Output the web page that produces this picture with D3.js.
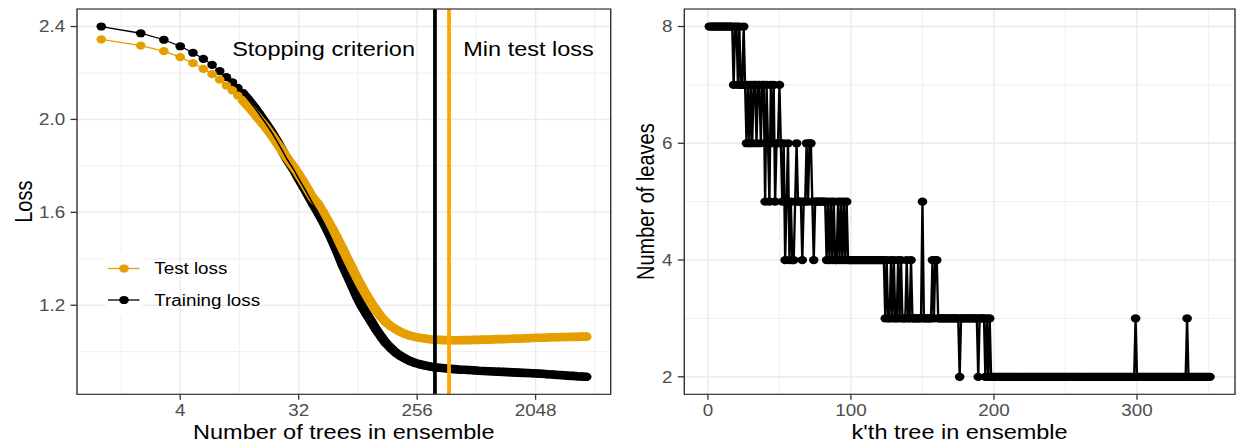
<!DOCTYPE html>
<html>
<head>
<meta charset="utf-8">
<script src="https://cdn.jsdelivr.net/npm/d3@7"></script>
<style>
  body { margin: 0; background: #fff; }
  text { font-family: "Liberation Sans", Arial, Helvetica, sans-serif; }
</style>
</head>
<body>
<svg id="chart" width="1236" height="444"></svg>
<script>
// ---- data ----
const treeCounts = [1,2,3,4,5,6,7,8,9,10,11,12,13,14,15,16,18,20,22,24,26,28,30,32,35,38,41,45,49,53,58,63,69,75,82,89,97,106,115,125,136,148,161,175,191,208,226,246,268,292,318,347,378,412,449,489,533,581,633,690,752,820,894,975,1063,1159,1264,1378,1502,1638,1786,1947,2123,2315,2524,2752,3001,3272,3568,3890,4241,4624,5000];
const trainLoss = [2.400,2.371,2.343,2.315,2.287,2.261,2.235,2.208,2.182,2.160,2.136,2.113,2.090,2.067,2.045,2.023,1.982,1.943,1.904,1.866,1.830,1.802,1.775,1.745,1.708,1.672,1.638,1.600,1.562,1.524,1.477,1.430,1.375,1.330,1.282,1.237,1.196,1.160,1.128,1.095,1.065,1.037,1.016,0.997,0.982,0.970,0.960,0.952,0.946,0.941,0.937,0.933,0.931,0.929,0.927,0.925,0.923,0.922,0.921,0.920,0.918,0.917,0.916,0.915,0.914,0.913,0.912,0.911,0.910,0.909,0.908,0.907,0.906,0.905,0.903,0.902,0.900,0.899,0.897,0.896,0.894,0.893,0.892];
const testLoss = [2.345,2.318,2.294,2.268,2.242,2.218,2.195,2.171,2.146,2.125,2.103,2.082,2.061,2.040,2.020,2.000,1.965,1.930,1.896,1.865,1.835,1.810,1.787,1.763,1.728,1.694,1.662,1.636,1.601,1.567,1.527,1.488,1.444,1.402,1.358,1.318,1.278,1.240,1.208,1.178,1.150,1.127,1.110,1.097,1.085,1.076,1.069,1.064,1.060,1.057,1.054,1.052,1.051,1.050,1.049,1.049,1.049,1.050,1.050,1.051,1.051,1.052,1.052,1.053,1.054,1.054,1.055,1.056,1.056,1.057,1.058,1.059,1.060,1.060,1.061,1.062,1.062,1.063,1.063,1.064,1.064,1.065,1.065];
const stopTree = 350;
const minTestTree = 448;
const treeTicks = [4, 32, 256, 2048];
const treeMinorPow = [0.5, 3.5, 6.5, 9.5, 12.5];   // minor grid at 2^p
const lossTicks = [1.2, 1.6, 2.0, 2.4];
const lossMinor = [1.0, 1.4, 1.8, 2.2];

// number of leaves of each tree, as runs [leaves, how many trees in a row]
const leafRuns = [[8,17],[7,1],[8,2],[7,1],[8,1],[7,2],[8,1],[7,1],[6,1],[7,1],[6,1],[7,1],[6,1],[7,2],[6,1],[7,2],[6,1],[7,2],
  [5,1],[7,1],[6,1],[5,1],[7,1],[6,1],[7,1],[5,1],[6,2],[7,1],[6,1],[5,1],[6,1],[4,1],[5,1],[6,1],[4,1],[5,1],[4,2],[5,1],[6,1],
  [5,3],[4,1],[5,2],[6,1],[5,1],[6,2],[5,1],[4,1],[5,8],[4,1],[5,1],[4,1],[5,1],[4,1],[5,1],[4,2],[5,1],[4,1],[5,1],[4,1],[5,1],
  [4,1],[5,1],[4,26],[3,1],[4,1],[3,2],[4,1],[3,1],[4,1],[3,2],[4,1],[3,1],[4,1],[3,3],[4,1],[3,2],[4,1],[3,7],[5,1],[3,6],[4,1],
  [3,1],[4,2],[3,15],[2,1],[3,12],[2,1],[3,4],[2,1],[3,1],[2,1],[3,1],[2,101],[3,1],[2,35],[3,1],[2,16]];
const kTicks = [0, 100, 200, 300];
const kMinor = [50, 150, 250, 350];
const leafTicks = [2, 4, 6, 8];
const leafMinor = [3, 5, 7];

// ---- layout ----
const SX = 1.175;   // the picture is a bit wider than tall, stretch everything
const LP = {left: 77/SX, right: 610.7/SX, top: 9, bottom: 394.3};
const RP = {left: 684.3/SX, right: 1235/SX, top: 9, bottom: 394.3};
const grey = '#EBEBEB', orange = '#E69F00';

let svg = d3.select('#chart');
let root = svg.append('g').attr('transform', 'scale(' + SX + ',1)');

// ggplot style 5% expansion
function expand(lo, hi) {
    let pad = (hi - lo) * 0.05;
    return [lo - pad, hi + pad];
}

let lg = expand(Math.log2(d3.min(treeCounts)), Math.log2(d3.max(treeCounts)));
let xL = d3.scaleLog().base(2).domain([2 ** lg[0], 2 ** lg[1]]).range([LP.left, LP.right]);
let yL = d3.scaleLinear().domain(expand(d3.min(trainLoss), d3.max(trainLoss))).range([LP.bottom, LP.top]);

let leaves = [];
leafRuns.forEach(r => { for (let i = 0; i < r[1]; i++) leaves.push(r[0]); });
let trees = leaves.map((v, i) => ({k: i + 1, n: v}));
let xR = d3.scaleLinear().domain(expand(1, trees.length)).range([RP.left, RP.right]);
let yR = d3.scaleLinear().domain(expand(2, 8)).range([RP.bottom, RP.top]);

function frame(P, x, y, xMaj, xMin, yMaj, yMin, fmt) {
    let g = root.append('g');
    g.selectAll('.vmin').data(xMin).enter().append('line')
        .attr('x1', d => x(d)).attr('x2', d => x(d)).attr('y1', P.top).attr('y2', P.bottom)
        .attr('stroke', grey).attr('stroke-width', 0.7);
    g.selectAll('.hmin').data(yMin).enter().append('line')
        .attr('x1', P.left).attr('x2', P.right).attr('y1', d => y(d)).attr('y2', d => y(d))
        .attr('stroke', grey).attr('stroke-width', 0.8);
    g.selectAll('.vmaj').data(xMaj).enter().append('line')
        .attr('x1', d => x(d)).attr('x2', d => x(d)).attr('y1', P.top).attr('y2', P.bottom)
        .attr('stroke', grey).attr('stroke-width', 1.3);
    g.selectAll('.hmaj').data(yMaj).enter().append('line')
        .attr('x1', P.left).attr('x2', P.right).attr('y1', d => y(d)).attr('y2', d => y(d))
        .attr('stroke', grey).attr('stroke-width', 1.5);
    // axes
    g.selectAll('.xt').data(xMaj).enter().append('line')
        .attr('x1', d => x(d)).attr('x2', d => x(d)).attr('y1', P.bottom).attr('y2', P.bottom + 5.5)
        .attr('stroke', '#333').attr('stroke-width', 1.1);
    g.selectAll('.yt').data(yMaj).enter().append('line')
        .attr('x1', P.left - 5.5).attr('x2', P.left).attr('y1', d => y(d)).attr('y2', d => y(d))
        .attr('stroke', '#333').attr('stroke-width', 1.3);
    g.selectAll('.xl').data(xMaj).enter().append('text')
        .attr('x', d => x(d)).attr('y', 416).attr('text-anchor', 'middle')
        .attr('font-size', 16).attr('fill', '#4D4D4D').text(d => d);
    g.selectAll('.yl').data(yMaj).enter().append('text')
        .attr('x', P.left - 10).attr('y', d => y(d)).attr('dy', '0.36em').attr('text-anchor', 'end')
        .attr('font-size', 16).attr('fill', '#4D4D4D').text(fmt);
    return g;
}

function border(P) {
    root.append('rect').attr('x', P.left).attr('y', P.top)
        .attr('width', P.right - P.left).attr('height', P.bottom - P.top)
        .attr('fill', 'none').attr('stroke', '#333').attr('stroke-width', 1.2);
}

// ---------- left panel ----------
frame(LP, xL, yL, treeTicks, treeMinorPow.map(p => 2 ** p), lossTicks, lossMinor, d => d.toFixed(1));

let clipL = svg.append('defs').append('clipPath').attr('id', 'clipL');
clipL.append('rect').attr('x', LP.left).attr('y', LP.top).attr('width', LP.right - LP.left).attr('height', LP.bottom - LP.top);
let plotL = root.append('g').attr('clip-path', 'url(#clipL)');

let series = [
    {name: 'Training loss', color: 'black', vals: trainLoss},
    {name: 'Test loss', color: orange, vals: testLoss}
];
let line = d3.line().x(d => xL(d[0])).y(d => yL(d[1]));

// points layer: where trees are dense the dots melt into a band
series.forEach(s => {
    let pts = treeCounts.map((n, i) => [n, s.vals[i]]);
    plotL.append('path').attr('d', line(pts.filter(p => p[0] >= 12)))
        .attr('fill', 'none').attr('stroke', s.color).attr('stroke-width', 8.6)
        .attr('stroke-linecap', 'round').attr('stroke-linejoin', 'round');
    plotL.append('g').selectAll('circle').data(pts).enter().append('circle')
        .attr('cx', d => xL(d[0])).attr('cy', d => yL(d[1])).attr('r', 4.1)
        .attr('fill', s.color);
});
// lines layer
[series[1], series[0]].forEach(s => {
    let pts = treeCounts.map((n, i) => [n, s.vals[i]]);
    plotL.append('path').attr('d', line(pts))
        .attr('fill', 'none').attr('stroke', s.color).attr('stroke-width', 1.3);
});

// stopping lines
plotL.append('line').attr('x1', xL(stopTree)).attr('x2', xL(stopTree))
    .attr('y1', LP.top).attr('y2', LP.bottom).attr('stroke', 'black').attr('stroke-width', 3.2);
plotL.append('line').attr('x1', xL(minTestTree)).attr('x2', xL(minTestTree))
    .attr('y1', LP.top).attr('y2', LP.bottom).attr('stroke', '#FFA500').attr('stroke-width', 3.2);

root.append('text').attr('x', 415 / SX).attr('y', 56).attr('text-anchor', 'end')
    .attr('font-size', 20).text('Stopping criterion');
root.append('text').attr('x', 463.3 / SX).attr('y', 56)
    .attr('font-size', 20).text('Min test loss');

// legend
let legend = [
    {name: 'Test loss', color: orange, cy: 268.5},
    {name: 'Training loss', color: 'black', cy: 300}
];
let lgG = root.append('g');
legend.forEach(e => {
    lgG.append('rect').attr('x', 105.3 / SX).attr('y', e.cy - 15.75).attr('width', 37.4 / SX).attr('height', 31.5)
        .attr('fill', 'white');
    lgG.append('line').attr('x1', 108 / SX).attr('x2', 139.5 / SX).attr('y1', e.cy).attr('y2', e.cy)
        .attr('stroke', e.color).attr('stroke-width', 1.3);
    lgG.append('circle').attr('cx', 124 / SX).attr('cy', e.cy).attr('r', 4.1).attr('fill', e.color);
    lgG.append('text').attr('x', 154.3 / SX).attr('y', e.cy).attr('dy', '0.36em')
        .attr('font-size', 16).text(e.name);
});

border(LP);

root.append('text').attr('x', (LP.left + LP.right) / 2).attr('y', 438.7).attr('text-anchor', 'middle')
    .attr('font-size', 20).text('Number of trees in ensemble');
root.append('text').attr('transform', 'translate(' + (31.7 / SX) + ',' + ((LP.top + LP.bottom) / 2) + ') rotate(-90)')
    .attr('text-anchor', 'middle').attr('font-size', 20).text('Loss');

// ---------- right panel ----------
frame(RP, xR, yR, kTicks, kMinor, leafTicks, leafMinor, d => d);

let plotR = root.append('g');
plotR.append('path')
    .attr('d', d3.line().x(d => xR(d.k)).y(d => yR(d.n))(trees))
    .attr('fill', 'none').attr('stroke', 'black').attr('stroke-width', 2)
    .attr('stroke-linejoin', 'round');
plotR.selectAll('circle').data(trees).enter().append('circle')
    .attr('cx', d => xR(d.k)).attr('cy', d => yR(d.n)).attr('r', 4.1).attr('fill', 'black');

border(RP);

root.append('text').attr('x', (RP.left + RP.right) / 2).attr('y', 438.7).attr('text-anchor', 'middle')
    .attr('font-size', 20).text("k'th tree in ensemble");
root.append('text').attr('transform', 'translate(' + (653.5 / SX) + ',' + ((RP.top + RP.bottom) / 2) + ') rotate(-90)')
    .attr('text-anchor', 'middle').attr('font-size', 20).text('Number of leaves');
</script>
</body>
</html>
